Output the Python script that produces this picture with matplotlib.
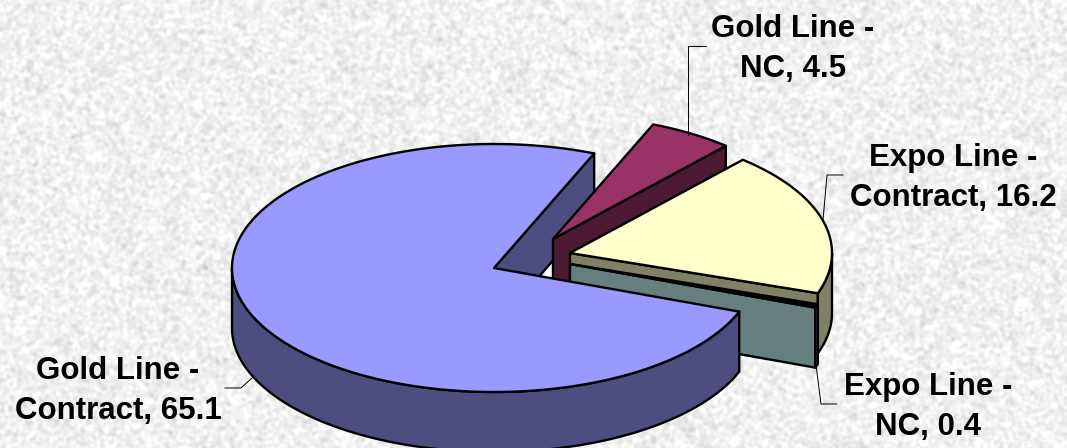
import numpy as np
import matplotlib
matplotlib.use("Agg")
import matplotlib.pyplot as plt
from matplotlib.patches import Polygon

# Data
labels = ["Gold Line -\nContract, 65.1", "Gold Line -\nNC, 4.5",
          "Expo Line -\nContract, 16.2", "Expo Line -\nNC, 0.4"]
values = [65.1, 4.5, 16.2, 0.4]

# Colours
top_colors = ["#9999FF", "#993366", "#FFFFCC", "#000000"]
side_colors = ["#4D4D80", "#4D1A33", "#808066", "#668080"]

# Layout (pixels)
rx = 262
ry = 124
depth = 60
start_angle = 110.6
slice_x = [494, 553, 570, 570]
slice_y = [268, 239, 253, 264]
label_x = [118, 793, 953, 928]
label_y = [391, 49, 178, 407]
leader_x = [[225, 241, 252], [706, 688, 688], [843, 827, 823], [837, 821, 816]]
leader_y = [[388, 388, 378], [46, 46, 135], [175, 175, 220], [404, 404, 365]]


def rim(cx, cy, a0, a1):
    a = np.radians(np.linspace(a0, a1, 200))
    return cx + rx * np.sin(a), cy - ry * np.cos(a)


def face(ax, xs, ys, color, z):
    ax.add_patch(Polygon(np.column_stack([xs, ys]), closed=True, facecolor=color,
                         edgecolor="black", linewidth=1.7, joinstyle="round", zorder=z))


def cut(ax, i, angle, z):
    cx, cy = slice_x[i], slice_y[i]
    ex, ey = rim(cx, cy, angle, angle)
    face(ax, [cx, ex[0], ex[0], cx], [cy, ey[0], ey[0] + depth, cy + depth], side_colors[i], z)


fig = plt.figure(figsize=(10.67, 4.48), dpi=100)
ax = fig.add_axes([0, 0, 1, 1])
ax.set_xlim(0, 1067)
ax.set_ylim(448, 0)
ax.axis("off")

# stone background
rng = np.random.default_rng(3)
noise = rng.normal(size=(448, 1067))
fx = np.fft.fftfreq(1067)[None, :]
fy = np.fft.fftfreq(448)[:, None]
noise = np.fft.ifft2(np.fft.fft2(noise) * np.exp(-(fx**2 + fy**2) * 2 * np.pi**2 * 1.5**2)).real
noise = noise / noise.std()
stone = np.clip(240 + 8 * noise, 200, 255)
ax.imshow(stone, cmap="gray", vmin=0, vmax=255, extent=(0, 1067, 448, 0), aspect="auto", zorder=0)

# slice angles, clockwise from the top
shares = np.array(values) / sum(values) * 360
starts = start_angle + np.concatenate([[0], np.cumsum(shares)[:-1]])
ends = starts + shares
starts[1:] = starts[1:] % 360
ends[1:] = ends[1:] % 360

# back to front: main slice back wall, Gold NC, Expo Contract, Expo NC, main slice
cut(ax, 0, ends[0], 2)

z = 3
for i in [1, 2, 3, 0]:
    cx, cy = slice_x[i], slice_y[i]
    if i != 0:
        cut(ax, i, ends[i], z)
    # outer wall, only the front half of the circle shows
    a0 = max(starts[i], 90)
    a1 = min(ends[i], 270)
    if a1 > a0:
        wx, wy = rim(cx, cy, a0, a1)
        face(ax, np.r_[wx, wx[::-1]], np.r_[wy, wy[::-1] + depth], side_colors[i], z)
    tx, ty = rim(cx, cy, starts[i], ends[i])
    face(ax, np.r_[cx, tx], np.r_[cy, ty], top_colors[i], z + 0.5)
    z += 1

# leader lines
for lx, ly in zip(leader_x, leader_y):
    ax.plot(lx, ly, color="black", linewidth=0.7, zorder=8)

for text, x, y in zip(labels, label_x, label_y):
    ax.text(x, y, text, ha="center", va="center", fontsize=22.5, fontweight="bold",
            family="Liberation Sans", color="black", linespacing=1.42, zorder=9)

fig.savefig("out.png", dpi=100)
